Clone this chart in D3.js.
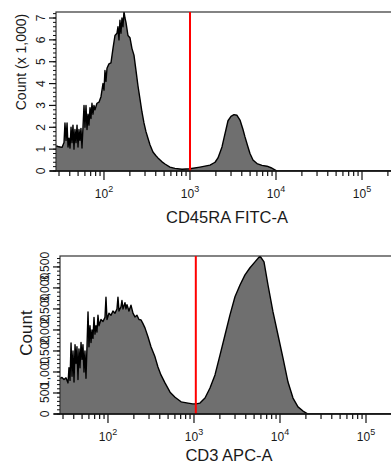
<!DOCTYPE html>
<html>
<head>
<meta charset="utf-8">
<script src="https://cdn.jsdelivr.net/npm/d3@7"></script>
<style>
  body { margin: 0; background: #fff; }
  svg text { font-family: "Liberation Sans", Arial, sans-serif; fill: #1a1a1a; }
</style>
</head>
<body>
<div id="chart"></div>
<script>
// CD45RA FITC-A histogram (fluorescence, count)
const cd45Fluor = [27.7, 29.2, 30.8, 32.5, 34.3, 35.2, 36.2, 37.2, 38.2, 39.2,
  40.3, 41.4, 42.5, 43.6, 44.8, 46.0, 47.3, 48.6, 49.9, 51.2,
  52.6, 54.0, 55.5, 57.0, 58.6, 60.1, 61.8, 63.5, 65.2, 66.9,
  68.8, 70.6, 72.5, 74.5, 76.5, 78.6, 82.9, 87.5, 92.3, 97.4,
  100, 102.7, 105.5, 108.4, 114.3, 120.6, 127.2, 134.2, 141.6, 145.4,
  149.4, 153.4, 157.6, 161.9, 166.3, 170.8, 175.4, 180.2, 190.1, 200.5,
  211.6, 223.2, 235.5, 248.4, 262.1, 276.5, 291.7, 307.8, 324.7, 342.5,
  371, 402, 424, 473, 512, 585, 668, 808, 1000, 1306,
  1709, 1956, 2116, 2233, 2356, 2485, 2622, 2767, 2997, 3248,
  3520, 3814, 4133, 4360, 4724, 4985, 5402, 6012, 6875, 7860,
  8750, 9480, 10270, 262144];
const cd45Count = [1150, 1120, 1100, 1080, 1300, 2200, 1400, 2200, 1100, 1500,
  1050, 2000, 1300, 2100, 1000, 1900, 1300, 2100, 1100, 1900,
  1400, 1950, 1050, 2000, 3000, 2000, 3000, 1900, 2600, 2100,
  2900, 2400, 3100, 2600, 3000, 2800, 3100, 3150, 3400, 4000,
  3700, 4600, 4100, 4700, 4900, 4950, 5600, 6200, 6300, 6600,
  6000, 6900, 6300, 7000, 6600, 7300, 7000, 6800, 6200, 6100,
  5600, 5300, 4600, 3900, 3300, 2700, 2200, 1800, 1500, 1200,
  870, 700, 600, 420, 320, 180, 120, 80, 100, 180,
  270, 400, 600, 850, 1100, 1500, 1900, 2300, 2500, 2580,
  2550, 2330, 1900, 1560, 1100, 800, 500, 340, 260, 220,
  150, 80, 0, 0];

// CD3 APC-A histogram (fluorescence, count)
const cd3Fluor = [27.7, 29.2, 30.8, 32.5, 34.3, 35.2, 36.2, 37.2, 38.2, 39.2,
  40.3, 41.4, 42.5, 43.6, 44.8, 46.0, 47.3, 48.6, 49.9, 51.2,
  52.6, 54.0, 55.5, 57.0, 58.6, 60.1, 61.8, 63.5, 65.2, 66.9,
  68.8, 70.6, 72.5, 74.5, 76.5, 78.6, 82.9, 87.5, 92.3, 94.8,
  97.4, 102.7, 108.4, 114.3, 120.6, 127.2, 130.7, 134.2, 141.6, 145.4,
  149.4, 157.6, 161.9, 166.3, 175.4, 185.1, 195.2, 206, 217.3, 229.3,
  241.9, 255.2, 269.2, 291.7, 316.1, 352, 381, 413, 460, 527,
  602, 708, 852, 967, 1055, 1174, 1343, 1535, 1755, 2006,
  2294, 2622, 2997, 3427, 3917, 4479, 5120, 5854, 6517, 7253,
  8292, 9479, 10840, 12390, 14160, 16190, 18510, 21160, 262144];
const cd3Count = [850, 870, 820, 860, 740, 1100, 800, 1690, 900, 1500,
  760, 1650, 1200, 1600, 820, 1550, 1100, 1700, 1300, 1650,
  1000, 1500, 850, 1600, 2430, 1600, 2100, 1700, 2000, 1800,
  2300, 1900, 2100, 1950, 2350, 2100, 2250, 2200, 2300, 2780,
  2250, 2400, 2350, 2450, 2400, 2500, 2780, 2450, 2550, 2700,
  2500, 2650, 2500, 2600, 2450, 2590, 2400, 2310, 2350, 2250,
  2240, 2150, 2050, 1840, 1600, 1360, 1120, 930, 740, 520,
  400, 290, 260, 240, 240, 260, 380, 620, 930, 1400,
  1880, 2360, 2790, 3070, 3310, 3480, 3620, 3760, 3620, 3070,
  2430, 1880, 1330, 760, 380, 170, 70, 0, 0];

// axes
const xDecades = [100, 1000, 10000, 100000];
const xDecadeExp = ["2", "3", "4", "5"];
const cd45YTicks = [0, 1000, 2000, 3000, 4000, 5000, 6000, 7000];
const cd45YLabels = ["0", "1", "2", "3", "4", "5", "6", "7"];
const cd3YTicks = [0, 500, 1000, 1500, 2000, 2500, 3000, 3500];
const cd3YLabels = ["0", "500", "1,000", "1,500", "2,000", "2,500", "3,000", "3,500"];

const cd45Gate = 1000;
const cd3Gate = 1050;

const width = 391,
  height = 465;

const svg = d3.select("#chart").append("svg")
  .attr("width", width)
  .attr("height", height);

function drawPanel(p) {
  const g = svg.append("g");
  const x = d3.scaleLog().domain([27.68, 262144]).range([p.left, p.left + 342]);
  const y = d3.scaleLinear().domain([0, p.yMax]).range([p.bottom, p.top]);

  g.append("clipPath").attr("id", p.id)
    .append("rect")
    .attr("x", p.left).attr("y", p.top)
    .attr("width", 342).attr("height", p.bottom - p.top);

  const data = p.fluor.map((f, i) => ({ f: f, c: p.count[i] }));

  const area = d3.area()
    .x(d => x(d.f))
    .y0(y(0))
    .y1(d => y(d.c));
  const line = d3.line()
    .x(d => x(d.f))
    .y(d => y(d.c));

  const h = g.append("g").attr("clip-path", `url(#${p.id})`);
  h.append("path")
    .datum(data)
    .attr("fill", "#6f6f6f")
    .attr("d", area);
  h.append("path")
    .datum(data)
    .attr("fill", "none")
    .attr("stroke", "#000")
    .attr("stroke-width", 1.4)
    .attr("stroke-linejoin", "round")
    .attr("d", line);

  // frame
  g.append("rect")
    .attr("x", p.left).attr("y", p.top)
    .attr("width", 342).attr("height", p.bottom - p.top)
    .attr("fill", "none")
    .attr("stroke", "#333")
    .attr("stroke-width", 1.2);

  // gate
  g.append("line")
    .attr("x1", x(p.gate)).attr("x2", x(p.gate))
    .attr("y1", p.top).attr("y2", p.bottom)
    .attr("stroke", "#f00")
    .attr("stroke-width", 2);

  // x axis
  g.append("line")
    .attr("x1", p.left - 6).attr("x2", width)
    .attr("y1", p.bottom).attr("y2", p.bottom)
    .attr("stroke", "#111").attr("stroke-width", 1.6);

  const xt = x.ticks().filter(t => t >= 27.68);
  g.selectAll(null).data(xt).join("line")
    .attr("x1", d => x(d)).attr("x2", d => x(d))
    .attr("y1", p.bottom)
    .attr("y2", d => p.bottom + (xDecades.includes(d) ? 9 : 5))
    .attr("stroke", "#111").attr("stroke-width", 1.2);

  const xl = g.selectAll(null).data(xDecades).join("text")
    .attr("x", d => x(d))
    .attr("y", p.bottom + 27)
    .attr("text-anchor", "middle")
    .attr("font-size", 12);
  xl.append("tspan").text("10");
  xl.append("tspan")
    .attr("dy", -6)
    .attr("font-size", 9)
    .text((d, i) => xDecadeExp[i]);

  g.append("text")
    .attr("x", p.titleX)
    .attr("y", p.bottom + p.titleDy)
    .attr("text-anchor", "middle")
    .attr("font-size", 16.5)
    .text(p.title);

  // y axis
  const minor = d3.range(0, p.yMax, p.yMinor);
  g.selectAll(null).data(minor).join("line")
    .attr("x1", p.left - 3).attr("x2", p.left)
    .attr("y1", d => y(d)).attr("y2", d => y(d))
    .attr("stroke", "#111").attr("stroke-width", 1);
  g.selectAll(null).data(p.yTicks).join("line")
    .attr("x1", p.left - 7).attr("x2", p.left)
    .attr("y1", d => y(d)).attr("y2", d => y(d))
    .attr("stroke", "#111").attr("stroke-width", 1.2);
  g.selectAll(null).data(p.yTicks).join("text")
    .attr("transform", d => `translate(${p.left - 11},${y(d)}) rotate(-90)`)
    .attr("text-anchor", "middle")
    .attr("font-size", 12)
    .text((d, i) => p.yLabels[i]);

  g.append("text")
    .attr("transform", `translate(${p.yTitleX},${p.yTitleY}) rotate(-90)`)
    .attr("text-anchor", "middle")
    .attr("font-size", p.yTitleSize)
    .text(p.yTitle);
}

drawPanel({
  id: "clip-cd45", left: 56, top: 12, bottom: 171, yMax: 7275, yMinor: 200,
  fluor: cd45Fluor, count: cd45Count, gate: cd45Gate,
  yTicks: cd45YTicks, yLabels: cd45YLabels,
  title: "CD45RA FITC-A", titleX: 227, titleDy: 52,
  yTitle: "Count (x 1,000)", yTitleX: 26, yTitleY: 62, yTitleSize: 14
});

drawPanel({
  id: "clip-cd3", left: 60, top: 256, bottom: 414, yMax: 3760, yMinor: 100,
  fluor: cd3Fluor, count: cd3Count, gate: cd3Gate,
  yTicks: cd3YTicks, yLabels: cd3YLabels,
  title: "CD3 APC-A", titleX: 229, titleDy: 47,
  yTitle: "Count", yTitleX: 32, yTitleY: 333, yTitleSize: 17
});
</script>
</body>
</html>
